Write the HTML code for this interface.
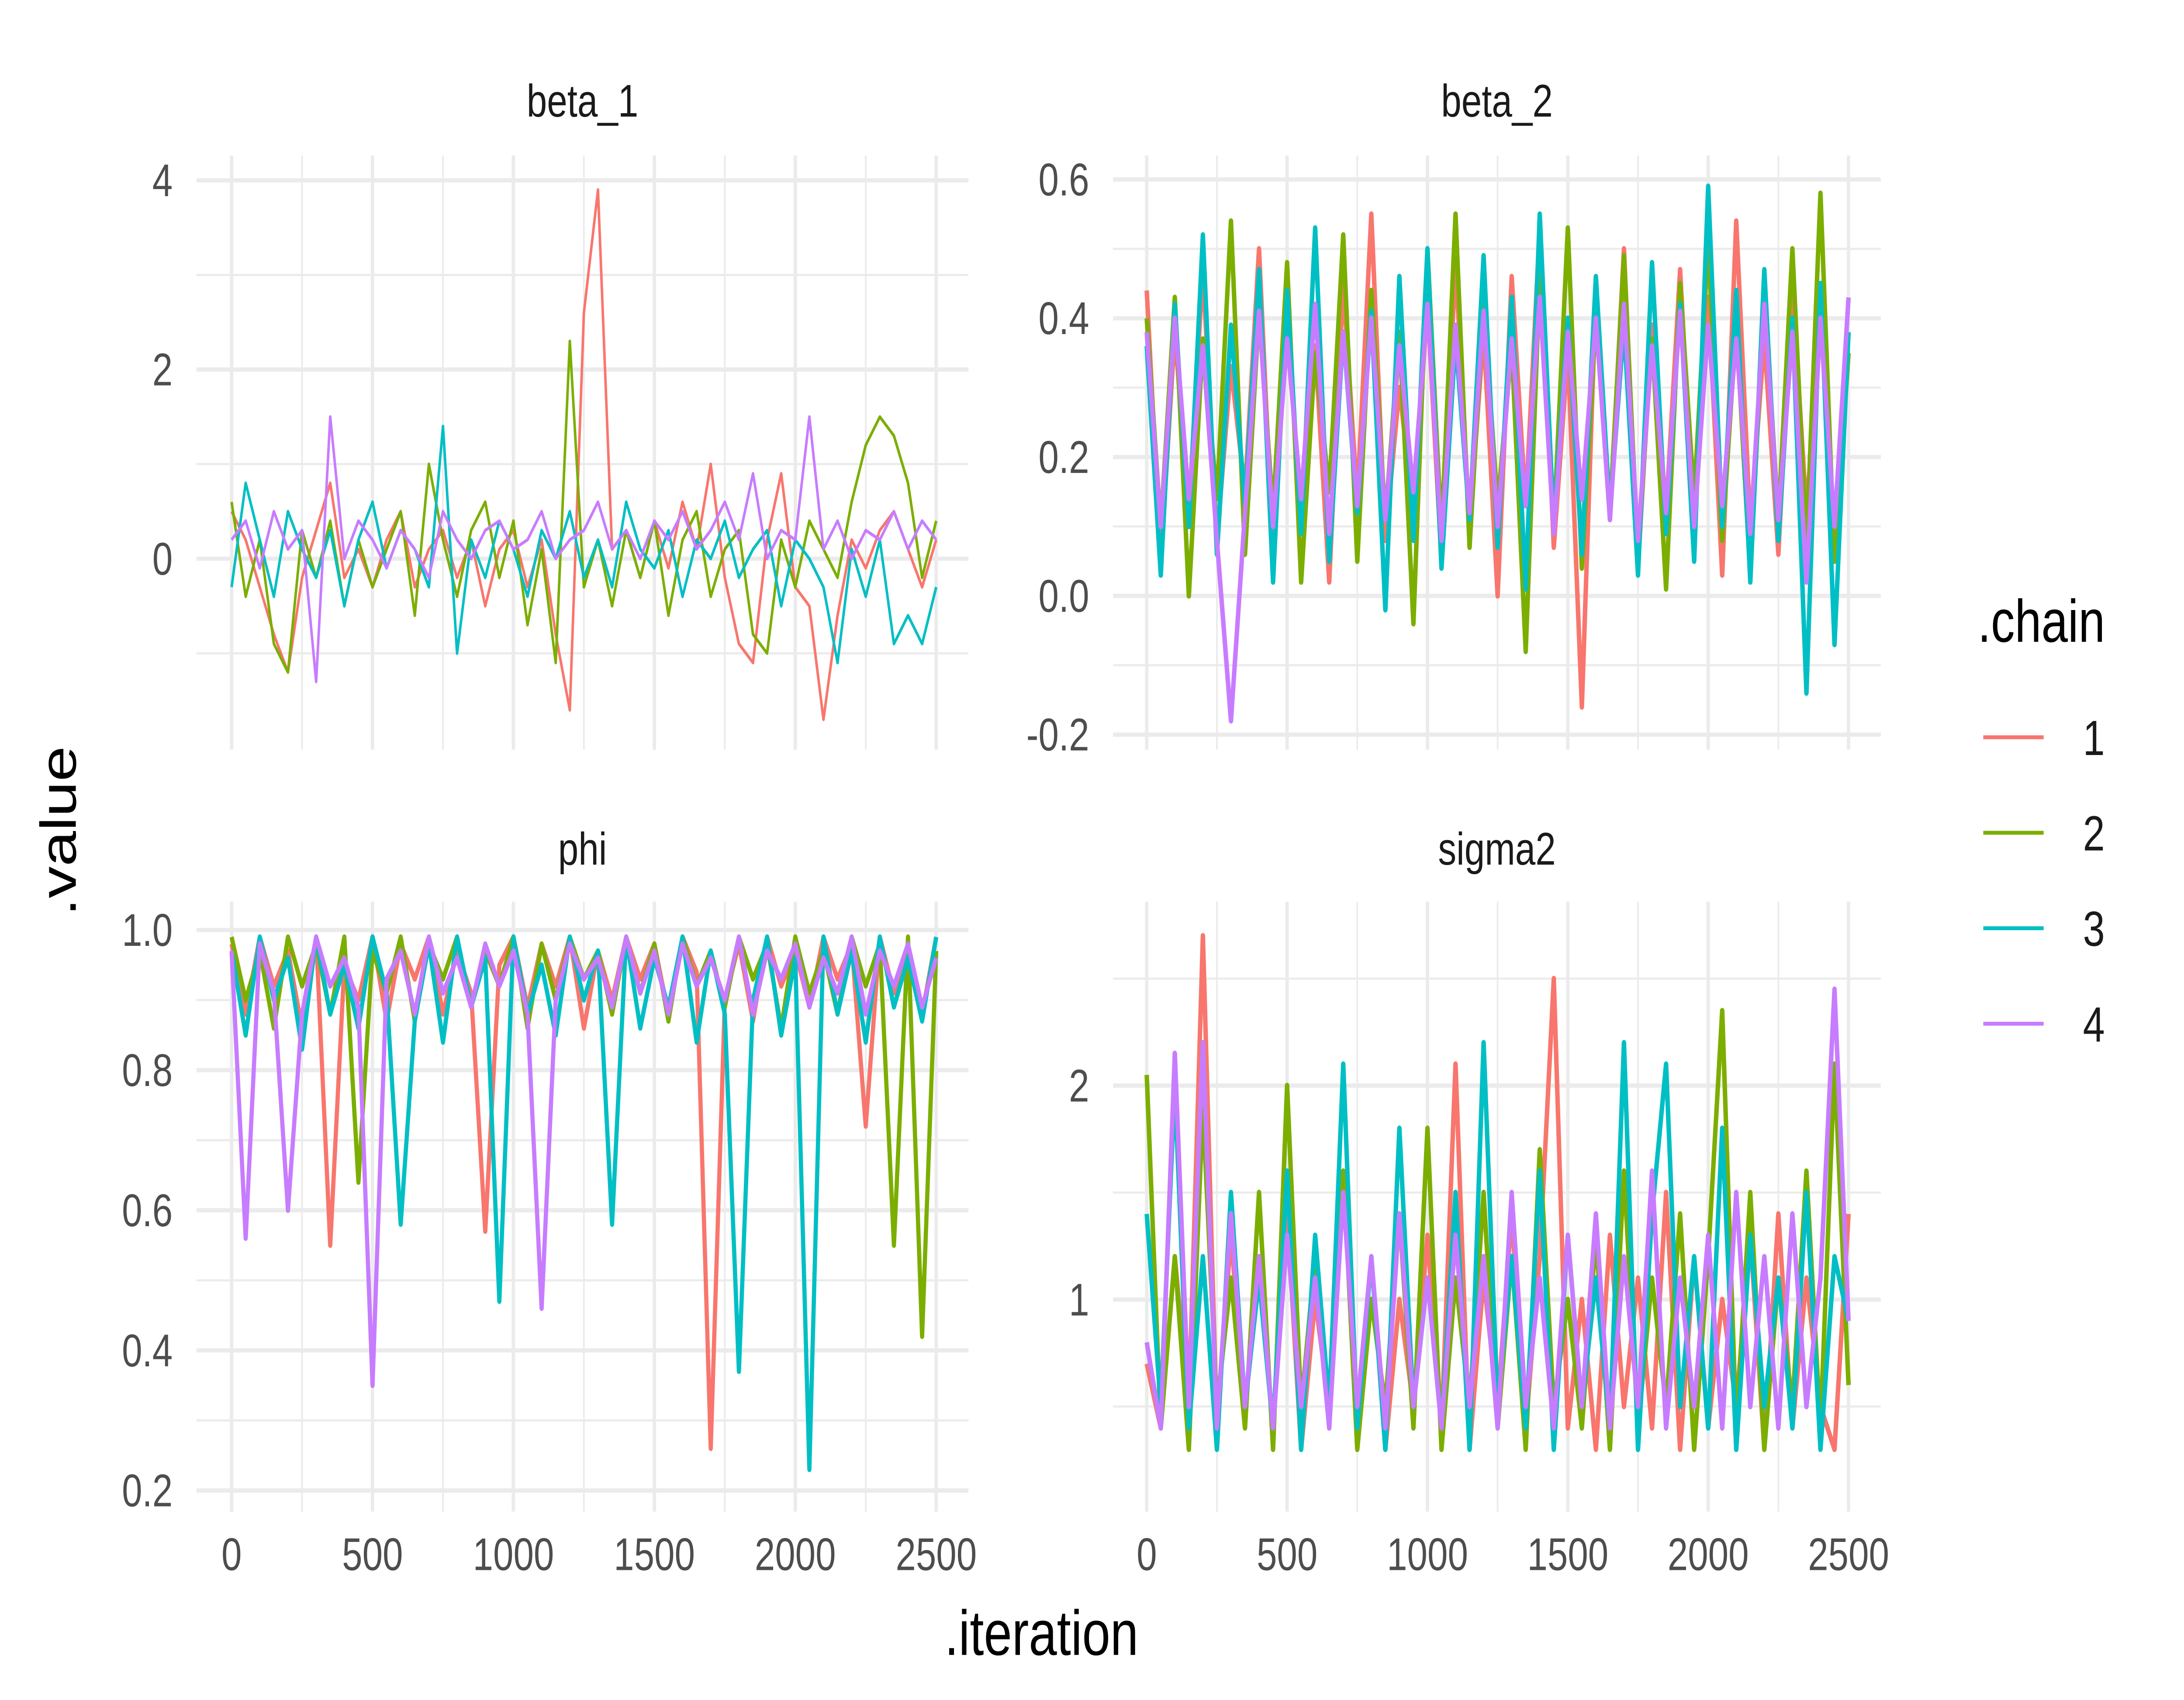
<!DOCTYPE html>
<html><head><meta charset="utf-8"><style>
html,body{margin:0;padding:0;background:#fff;width:100vw;height:100vh;overflow:hidden;}
svg{display:block;position:absolute;left:0;top:0;width:100vw;height:100vh;}
text{font-family:"Liberation Sans",Arial,sans-serif;}
</style></head><body>
<svg id="chart" viewBox="0 0 1556 961.5" preserveAspectRatio="none" xmlns="http://www.w3.org/2000/svg">
<rect x="0" y="0" width="1556" height="961.5" fill="#fff"/>
<g id="panels"></g>
<text x="742" y="936" font-size="36" text-anchor="middle" fill="#000">.iteration</text>
<text transform="translate(54,470) rotate(-90)" font-size="36" text-anchor="middle" fill="#000">.value</text>
<g>
<text x="1409" y="363" font-size="34" fill="#000">.chain</text>
</g>
<g id="legend-entries"></g>
</svg>
<script>
const chains = ["1","2","3","4"];
const colors = ["#F8766D","#7CAE00","#00BFC4","#C77CFF"];
const xTicks = [0,500,1000,1500,2000,2500];
const beta1_c1 = [0.5,0.2,-0.3,-0.8,-1.2,-0.2,0.3,0.8,-0.2,0.1,-0.3,0.2,0.5,-0.3,0.1,0.3,-0.2,0.2,-0.5,0.1,0.3,-0.3,0.2,-0.8,-1.6,2.6,3.9,0.1,0.3,-0.2,0.4,-0.1,0.6,0.1,1.0,-0.2,-0.9,-1.1,0.2,0.9,-0.3,-0.5,-1.7,-0.6,0.2,-0.1,0.3,0.5,0.1,-0.3,0.2];
const beta1_c2 = [0.6,-0.4,0.2,-0.9,-1.2,0.3,-0.2,0.4,-0.5,0.2,-0.3,0.1,0.5,-0.6,1.0,0.2,-0.4,0.3,0.6,-0.2,0.4,-0.7,0.1,-1.1,2.3,-0.3,0.2,-0.5,0.3,-0.2,0.4,-0.6,0.2,0.5,-0.4,0.1,0.3,-0.8,-1.0,0.2,-0.3,0.4,0.1,-0.2,0.6,1.2,1.5,1.3,0.8,-0.2,0.4];
const beta1_c3 = [-0.3,0.8,0.2,-0.4,0.5,0.1,-0.2,0.3,-0.5,0.2,0.6,-0.1,0.3,0.1,-0.3,1.4,-1.0,0.2,-0.2,0.4,0.1,-0.4,0.3,0.0,0.5,-0.2,0.2,-0.3,0.6,0.1,-0.1,0.3,-0.4,0.2,0.0,0.4,-0.2,0.1,0.3,-0.5,0.2,0.0,-0.3,-1.1,0.1,-0.4,0.2,-0.9,-0.6,-0.9,-0.3];
const beta1_c4 = [0.2,0.4,-0.1,0.5,0.1,0.3,-1.3,1.5,0.0,0.4,0.2,-0.1,0.3,0.1,-0.2,0.5,0.2,0.0,0.3,0.4,0.1,0.2,0.5,0.0,0.2,0.3,0.6,0.1,0.3,0.0,0.4,0.2,0.5,0.1,0.3,0.6,0.2,0.9,0.0,0.3,0.2,1.5,0.1,0.4,0.0,0.3,0.2,0.5,0.1,0.4,0.2];
const beta2_c1 = [0.44,0.05,0.38,0.12,0.47,0.08,0.33,0.15,0.50,0.06,0.40,0.10,0.36,0.02,0.45,0.14,0.55,0.08,0.30,0.12,0.42,0.05,0.48,0.10,0.38,0.00,0.46,0.13,0.53,0.07,0.35,-0.16,0.44,0.11,0.50,0.04,0.39,0.12,0.47,0.09,0.43,0.03,0.54,0.10,0.37,0.06,0.45,0.12,0.40,0.08,0.38];
const beta2_c2 = [0.40,0.10,0.43,0.00,0.37,0.14,0.54,0.06,0.41,0.12,0.48,0.02,0.35,0.15,0.52,0.05,0.44,0.11,0.38,-0.04,0.50,0.09,0.55,0.07,0.42,0.13,0.36,-0.08,0.46,0.10,0.53,0.04,0.40,0.12,0.49,0.06,0.37,0.01,0.45,0.14,0.51,0.08,0.39,0.03,0.44,0.11,0.50,0.07,0.58,0.05,0.35];
const beta2_c3 = [0.36,0.03,0.42,0.10,0.52,0.06,0.39,0.13,0.47,0.02,0.44,0.09,0.53,0.05,0.38,0.12,0.41,-0.02,0.46,0.08,0.50,0.04,0.37,0.11,0.49,0.07,0.43,0.01,0.55,0.10,0.40,0.06,0.46,0.12,0.39,0.03,0.48,0.09,0.42,0.05,0.59,0.10,0.44,0.02,0.47,0.08,0.40,-0.14,0.45,-0.07,0.38];
const beta2_c4 = [0.38,0.10,0.40,0.14,0.36,0.08,-0.18,0.12,0.41,0.10,0.37,0.14,0.42,0.09,0.38,0.13,0.40,0.11,0.36,0.15,0.42,0.08,0.39,0.12,0.41,0.10,0.37,0.13,0.43,0.09,0.38,0.14,0.40,0.11,0.42,0.08,0.36,0.12,0.41,0.10,0.39,0.13,0.37,0.09,0.42,0.11,0.38,0.02,0.40,0.10,0.43];
const phi_c1 = [0.98,0.88,0.99,0.92,0.97,0.86,0.99,0.55,0.95,0.90,0.99,0.87,0.98,0.93,0.99,0.88,0.97,0.91,0.57,0.95,0.99,0.89,0.98,0.92,0.99,0.86,0.97,0.90,0.99,0.93,0.98,0.88,0.99,0.94,0.26,0.90,0.98,0.87,0.99,0.92,0.97,0.89,0.99,0.93,0.98,0.72,0.99,0.91,0.97,0.88,0.99];
const phi_c2 = [0.99,0.90,0.97,0.86,0.99,0.92,0.98,0.88,0.99,0.64,0.97,0.91,0.99,0.87,0.98,0.93,0.99,0.89,0.97,0.92,0.99,0.86,0.98,0.90,0.99,0.93,0.97,0.88,0.99,0.91,0.98,0.87,0.99,0.92,0.97,0.89,0.99,0.93,0.98,0.86,0.99,0.91,0.97,0.88,0.99,0.92,0.98,0.55,0.99,0.42,0.97];
const phi_c3 = [0.97,0.85,0.99,0.90,0.96,0.83,0.99,0.88,0.95,0.86,0.99,0.91,0.58,0.87,0.98,0.84,0.99,0.89,0.96,0.47,0.99,0.88,0.95,0.85,0.99,0.90,0.97,0.58,0.99,0.86,0.96,0.89,0.99,0.84,0.97,0.88,0.37,0.90,0.99,0.85,0.96,0.23,0.99,0.88,0.97,0.84,0.99,0.89,0.96,0.87,0.99];
const phi_c4 = [0.97,0.56,0.98,0.91,0.60,0.88,0.99,0.92,0.96,0.89,0.35,0.93,0.97,0.88,0.99,0.91,0.96,0.89,0.98,0.92,0.97,0.88,0.46,0.90,0.98,0.93,0.96,0.89,0.99,0.91,0.97,0.88,0.98,0.92,0.96,0.90,0.99,0.88,0.97,0.93,0.98,0.89,0.96,0.91,0.99,0.88,0.97,0.92,0.98,0.89,0.96];
const sig_c1 = [0.7,0.4,1.2,0.5,2.7,0.4,1.3,0.5,1.1,0.4,1.4,0.3,1.0,0.5,1.6,0.4,1.2,0.3,1.0,0.5,1.3,0.4,2.1,0.3,1.1,0.5,1.4,0.4,1.2,2.5,0.4,1.0,0.3,1.3,0.5,1.1,0.4,1.5,0.3,1.2,0.4,1.0,0.5,1.3,0.3,1.4,0.4,1.1,0.5,0.3,1.4];
const sig_c2 = [2.05,0.4,1.2,0.3,1.9,0.5,1.1,0.4,1.5,0.3,2.0,0.5,1.2,0.4,1.6,0.3,1.0,0.5,1.4,0.4,1.8,0.3,1.1,0.5,1.5,0.4,1.2,0.3,1.7,0.5,1.0,0.4,1.3,0.3,1.6,0.4,1.1,0.5,1.4,0.3,1.2,2.35,0.4,1.5,0.3,1.1,0.5,1.6,0.4,2.1,0.6];
const sig_c3 = [1.4,0.5,2.0,0.4,1.2,0.3,1.5,0.5,1.1,0.4,1.6,0.3,1.3,0.5,2.1,0.4,1.2,0.3,1.8,0.5,1.1,0.4,1.5,0.3,2.2,0.5,1.2,0.4,1.6,0.3,1.3,0.5,1.1,0.4,2.2,0.3,1.4,2.1,0.5,1.2,0.4,1.8,0.3,1.3,0.5,1.1,0.4,1.5,0.3,1.2,0.9];
const sig_c4 = [0.8,0.4,2.15,0.5,2.2,0.4,1.4,0.5,1.2,0.4,1.3,0.5,1.1,0.4,1.5,0.5,1.2,0.4,1.4,0.5,1.1,0.4,1.3,0.5,1.2,0.4,1.5,0.5,1.1,0.4,1.3,0.5,1.4,0.4,1.2,0.5,1.6,0.4,1.1,0.5,1.3,0.4,1.5,0.5,1.2,0.4,1.4,0.5,1.1,2.45,0.9];

const NS = "http://www.w3.org/2000/svg";
const root = document.getElementById("panels");
function mk(tag, attrs, parent){ const e=document.createElementNS(NS,tag); for(const k in attrs) e.setAttribute(k,attrs[k]); parent.appendChild(e); return e; }

const panels = [
 {name:"beta_1", series:[beta1_c1,beta1_c2,beta1_c3,beta1_c4], x0:165, x1:667, rx0:140, rx1:690, ry0:88, ry1:424, vA:0, pA:316, vB:2, pB:209, ticks:[0,2,4], labels:["0","2","4"], minor:[-1,1,3], titleY:57, showX:false, sw:1.8},
 {name:"beta_2", series:[beta2_c1,beta2_c2,beta2_c3,beta2_c4], x0:817, x1:1317, rx0:793, rx1:1340, ry0:88, ry1:424, vA:0, pA:337, vB:0.2, pB:258.5, ticks:[-0.2,0,0.2,0.4,0.6], labels:["-0.2","0.0","0.2","0.4","0.6"], minor:[-0.1,0.1,0.3,0.5], titleY:57, showX:false, sw:3.2},
 {name:"phi", series:[phi_c1,phi_c2,phi_c3,phi_c4], x0:165, x1:667, rx0:140, rx1:690, ry0:510, ry1:855, vA:1, pA:526, vB:0.2, pB:843, ticks:[0.2,0.4,0.6,0.8,1.0], labels:["0.2","0.4","0.6","0.8","1.0"], minor:[0.3,0.5,0.7,0.9], titleY:480, showX:true, sw:3},
 {name:"sigma2", series:[sig_c1,sig_c2,sig_c3,sig_c4], x0:817, x1:1317, rx0:793, rx1:1340, ry0:510, ry1:855, vA:1, pA:735, vB:2, pB:614, ticks:[1,2], labels:["1","2"], minor:[0.5,1.5,2.5], titleY:480, showX:true, sw:3.2}
];

panels.forEach(p=>{
  const g = mk("g",{},root);
  
  
  const xs = v => p.x0 + (v/2500)*(p.x1-p.x0);
  const ys = v => p.pA + (v-p.vA)*(p.pB-p.pA)/(p.vB-p.vA);
  p.minor.forEach(v=>{ const l=mk("line",{x1:p.rx0,x2:p.rx1,y1:ys(v),y2:ys(v),stroke:"#ebebeb","stroke-width":1.2},g);
      });
  [250,750,1250,1750,2250].forEach(v=>{ const l=mk("line",{x1:xs(v),x2:xs(v),y1:p.ry0,y2:p.ry1,stroke:"#ebebeb","stroke-width":1.2},g);
      });
  p.ticks.forEach((v,i)=>{ const l=mk("line",{x1:p.rx0,x2:p.rx1,y1:ys(v),y2:ys(v),stroke:"#ebebeb","stroke-width":2.4},g);
     
    const t=mk("text",{x:p.rx0-17,y:ys(v)+9,"font-size":26,"text-anchor":"end",fill:"#4d4d4d"},g); t.textContent=p.labels[i];
      });
  xTicks.forEach(v=>{ const l=mk("line",{x1:xs(v),x2:xs(v),y1:p.ry0,y2:p.ry1,stroke:"#ebebeb","stroke-width":2.4},g);
     
    if(p.showX){ const t=mk("text",{x:xs(v),y:888,"font-size":26,"text-anchor":"middle",fill:"#4d4d4d"},g); t.textContent=String(v);
        } });
  const tt=mk("text",{x:(p.rx0+p.rx1)/2,y:p.titleY+9,"font-size":26,"text-anchor":"middle",fill:"#1a1a1a"},g); tt.textContent=p.name;
   
  p.series.forEach((arr,ci)=>{
    const n=arr.length;
    const d=arr.map((v,i)=>(i?"L":"M")+xs(i*2500/(n-1)).toFixed(2)+","+ys(v).toFixed(2)).join("");
    const path=mk("path",{d:d,fill:"none",stroke:colors[ci],"stroke-width":p.sw,"stroke-linejoin":"round"},g);
    
    
  });
});

const lg = document.getElementById("legend-entries");
chains.forEach((c,i)=>{
  const y = 417 + i*54;
  const l = mk("line",{x1:1413,x2:1456,y1:y,y2:y,stroke:colors[i],"stroke-width":2.2},lg);
  
  
  const t = mk("text",{x:1484,y:y+10,"font-size":28,fill:"#1a1a1a"},lg); t.textContent=c;
  
  
});
</script>
</body></html>
